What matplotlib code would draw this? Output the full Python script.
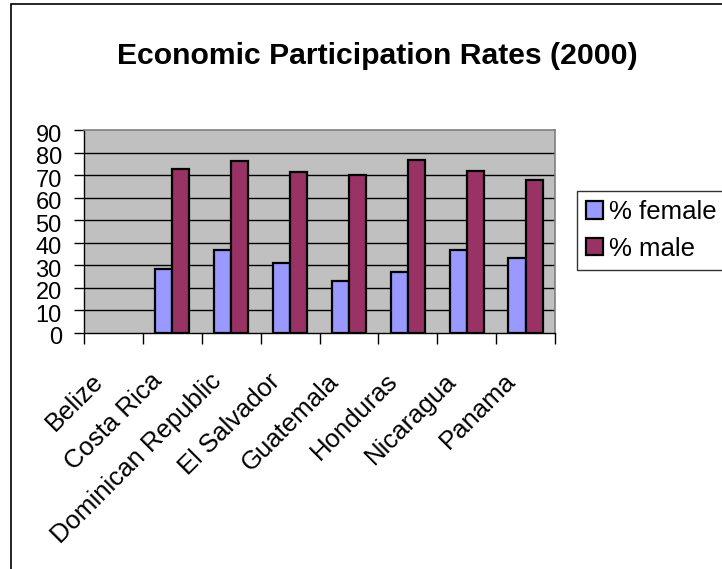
import matplotlib.pyplot as plt
import matplotlib.patches as patches
from matplotlib.transforms import ScaledTranslation
import numpy as np

countries = ["Belize", "Costa Rica", "Dominican Republic", "El Salvador",
             "Guatemala", "Honduras", "Nicaragua", "Panama"]
female = [np.nan, 28.5, 36.8, 30.9, 23.0, 27.2, 36.7, 33.4]
male = [np.nan, 72.5, 76.1, 71.2, 69.9, 76.7, 71.9, 67.7]
y_ticks = list(range(0, 100, 10))

plt.rcParams['font.family'] = ['Liberation Sans', 'DejaVu Sans']

fig = plt.figure(figsize=(7.22, 5.69), dpi=100)
ax = fig.add_axes([84 / 722, 1 - 333 / 569, 471 / 722, 203 / 569])
ax.set_facecolor('#C0C0C0')

x = np.arange(len(countries))
w = 0.29
ax.bar(x - w / 2, female, w, color='#9999FF', edgecolor='black', linewidth=1.6,
       label='% female', zorder=3)
ax.bar(x + w / 2, male, w, color='#993366', edgecolor='black', linewidth=1.6,
       label='% male', zorder=3)

ax.set_xlim(-0.5, len(countries) - 0.5)
ax.set_ylim(0, 90)
ax.set_yticks(y_ticks)
ax.tick_params(axis='y', labelsize=17, length=7, width=1, direction='out', pad=9)
down = ScaledTranslation(0, -0.03, fig.dpi_scale_trans)
for lab in ax.get_yticklabels():
    lab.set_transform(lab.get_transform() + down)
for v in y_ticks[1:-1]:
    ax.axhline(v, color='black', linewidth=1, zorder=1)

# category labels at centers, tick marks at boundaries
ax.set_xticks(x)
ax.set_xticklabels(countries, rotation=45, ha='right', va='center',
                   rotation_mode='anchor', fontsize=18.5)
ax.tick_params(axis='x', which='major', length=0, pad=32)
ax.set_xticks(np.arange(len(countries) + 1) - 0.5, minor=True)
ax.tick_params(axis='x', which='minor', length=8, width=1, direction='out')
shift = ScaledTranslation(-0.14, 0, fig.dpi_scale_trans)
for lab in ax.get_xticklabels():
    lab.set_transform(lab.get_transform() + shift)

for side in ['top', 'right']:
    ax.spines[side].set_color('#808080')
    ax.spines[side].set_linewidth(1.2)
for side in ['left', 'bottom']:
    ax.spines[side].set_color('black')
    ax.spines[side].set_linewidth(1)

fig.text(377 / 722, 1 - 56 / 569, 'Economic Participation Rates (2000)',
         ha='center', va='center', fontsize=21.7, fontweight='bold')

leg = fig.legend(loc='upper left', bbox_to_anchor=(577 / 722, 1 - 191 / 569),
                 fontsize=18.5, frameon=True, fancybox=False, borderaxespad=0,
                 handlelength=0.65, handleheight=0.65, handletextpad=0.25,
                 labelspacing=0.5, borderpad=0.35)
leg.get_frame().set_edgecolor('black')
leg.get_frame().set_linewidth(1)
for h in leg.legend_handles:
    h.set_linewidth(1.6)

# outer chart border
fig.patches.append(patches.Rectangle((11 / 722, -0.1), 2, 0.1 + (569 - 4) / 569,
                                     transform=fig.transFigure, fill=False,
                                     edgecolor='black', linewidth=1.2))

fig.savefig('out.png', dpi=100, facecolor='white')
